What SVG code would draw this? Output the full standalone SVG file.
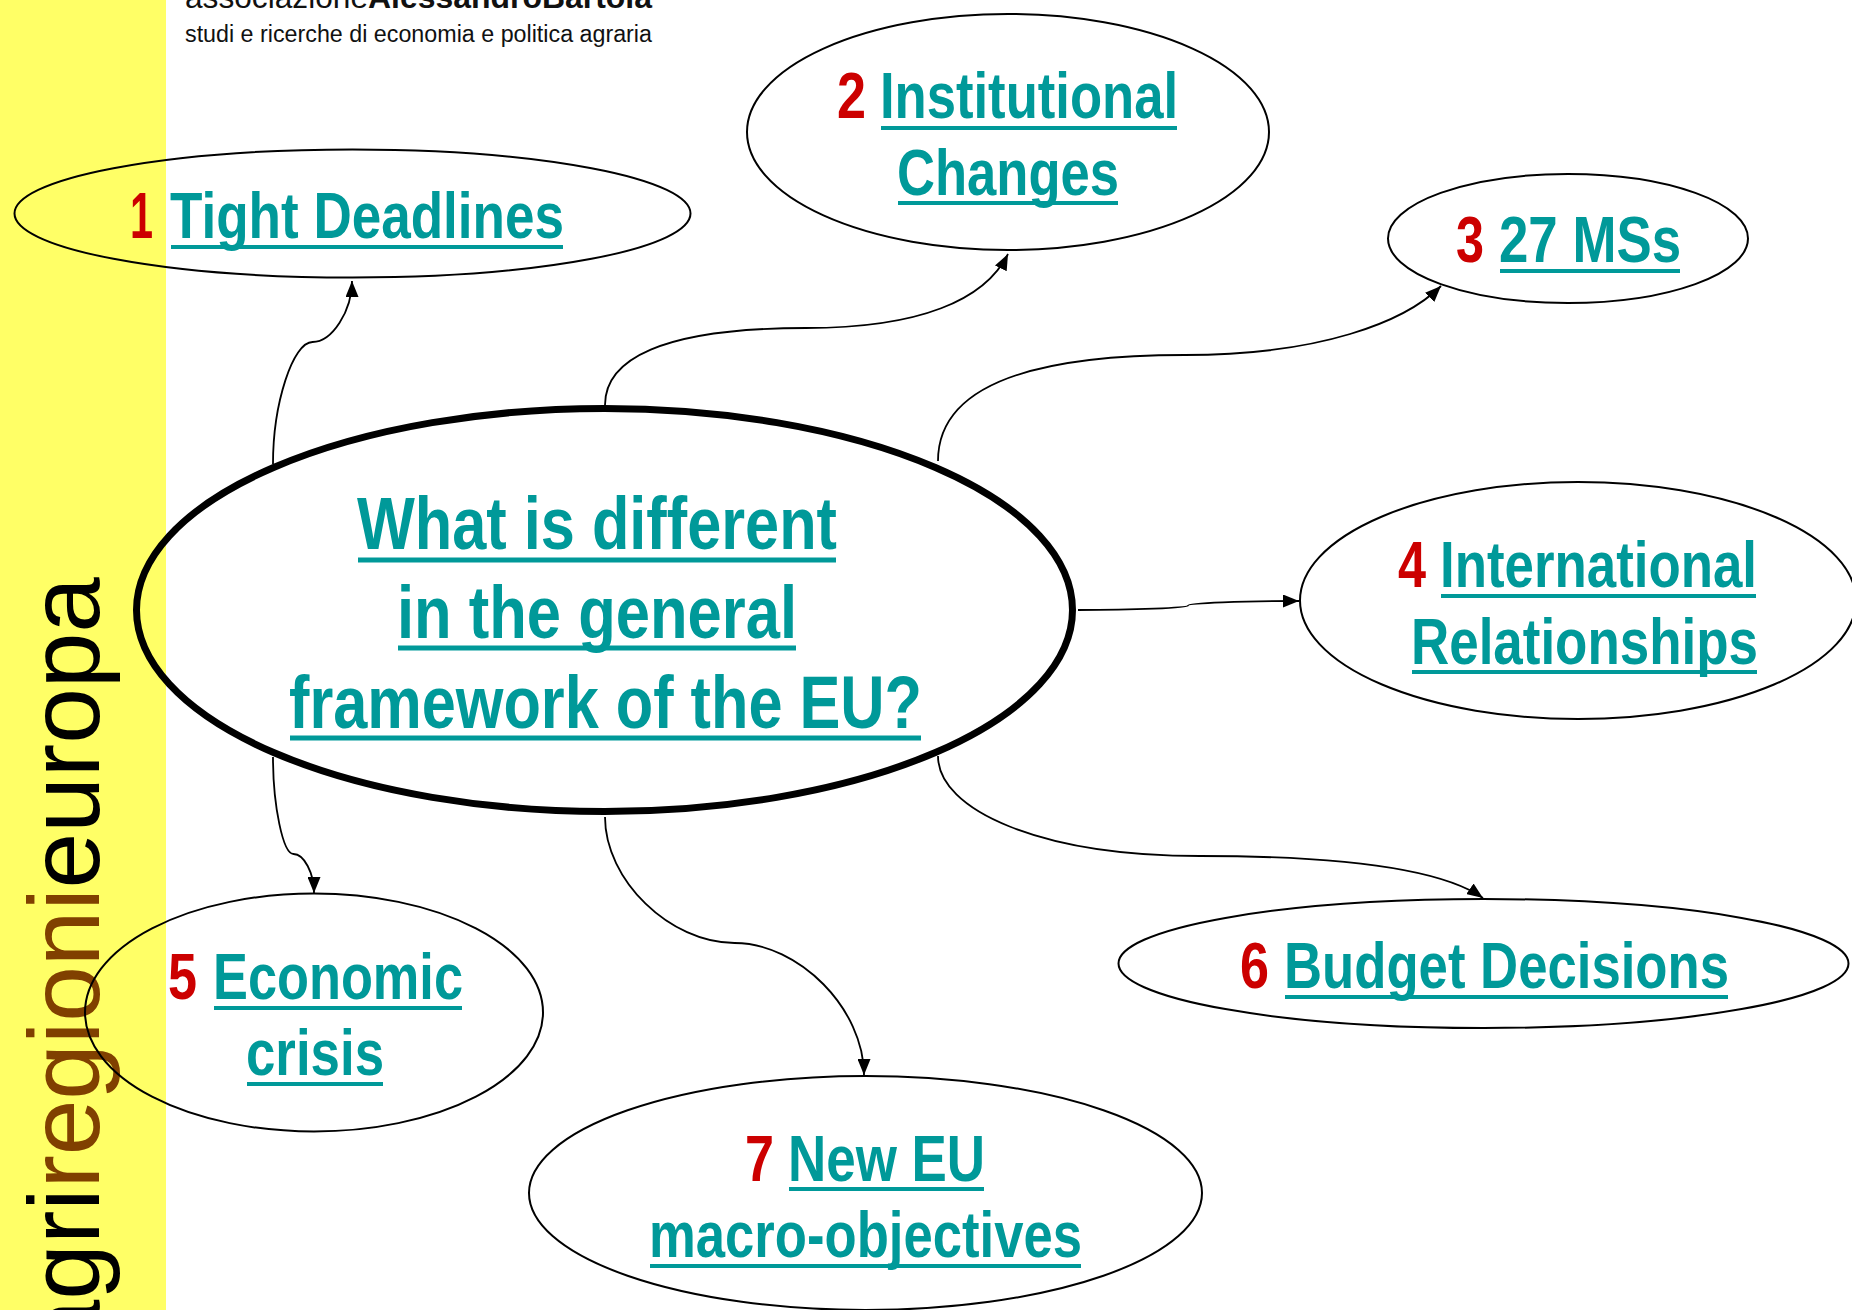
<svg xmlns="http://www.w3.org/2000/svg" width="1852" height="1310" viewBox="0 0 1852 1310">
<style>
.t{font-family:"Liberation Sans",Arial,sans-serif;font-weight:bold;fill:#009999;font-size:64px}
.n{fill:#CC0000}
.c{font-size:74px}
.ul{stroke:#009999;stroke-width:4}
.ulc{stroke-width:5}
.node{fill:none;stroke:#000;stroke-width:2}
.edge{fill:none;stroke:#000;stroke-width:1.8;marker-end:url(#arr)}
.hdr{font-family:"Liberation Sans",Arial,sans-serif;fill:#111}
</style>
<defs>
<marker id="arr" markerUnits="userSpaceOnUse" markerWidth="17" markerHeight="13" refX="16" refY="6.5" orient="auto">
<path d="M0,0 L16,6.5 L0,13 z" fill="#000"/>
</marker>
</defs>
<rect x="0" y="0" width="1852" height="1310" fill="#fff"/>
<rect x="0" y="0" width="166" height="1310" fill="#FFFF66"/>
<text transform="translate(99,577) rotate(-90)" text-anchor="end" font-family="Liberation Sans, Arial, sans-serif" font-size="100" fill="#000">agri<tspan fill="#804000">regioni</tspan>europa</text>
<text class="hdr" x="185" y="8" font-size="32" textLength="183" lengthAdjust="spacingAndGlyphs">associazione</text>
<text class="hdr" x="368" y="8" font-size="32" font-weight="bold" textLength="284" lengthAdjust="spacingAndGlyphs">AlessandroBartola</text>
<text class="hdr" x="185" y="42" font-size="23" textLength="467" lengthAdjust="spacingAndGlyphs">studi e ricerche di economia e politica agraria</text>

<g id="connectors">
<path class="edge" d="M273,464 C273,403 293,342 312.5,342 C332,342 352,311 352,281"/>
<path class="edge" d="M605,405 C605,360 660,328 806,328 C920,328 985,300 1008,254"/>
<path class="edge" d="M938,461 C938,400 1000,355 1185,355 C1320,355 1405,322 1441,286"/>
<path class="edge" d="M1078,610 C1134,610 1188,608 1188,605.5 C1188,603 1243,601 1299,601"/>
<path class="edge" d="M273,757 C273,806 283,854 293.5,854 C304,854 314,873 314,893"/>
<path class="edge" d="M938,756 C938,810 1040,856 1200,856 C1340,856 1440,868 1483,898"/>
<path class="edge" d="M605,817 C605,880 670,943 734.5,943 C799,943 864,1009 864,1075"/>
</g>

<g id="center">
<ellipse cx="604.5" cy="610" rx="468" ry="201.5" fill="none" stroke="#000" stroke-width="7"/>
<text class="t c" x="357" y="549" textLength="480" lengthAdjust="spacingAndGlyphs">What is different</text>
<line class="ul ulc" x1="358" y1="560" x2="836" y2="560"/>
<text class="t c" x="397" y="638" textLength="400" lengthAdjust="spacingAndGlyphs">in the general</text>
<line class="ul ulc" x1="398" y1="648" x2="796" y2="648"/>
<text class="t c" x="289" y="728" textLength="633" lengthAdjust="spacingAndGlyphs">framework of the EU?</text>
<line class="ul ulc" x1="290" y1="738" x2="921" y2="738"/>
</g>

<g id="node1">
<ellipse class="node" cx="352.5" cy="213.5" rx="338" ry="64"/>
<text class="t n" x="130" y="238" textLength="23" lengthAdjust="spacingAndGlyphs">1</text>
<text class="t" x="170" y="238" textLength="394" lengthAdjust="spacingAndGlyphs">Tight Deadlines</text>
<line class="ul" x1="171" y1="247" x2="563" y2="247"/>
</g>

<g id="node2">
<ellipse class="node" cx="1008" cy="132" rx="261" ry="118"/>
<text class="t n" x="837" y="118" textLength="29" lengthAdjust="spacingAndGlyphs">2</text>
<text class="t" x="880" y="118" textLength="298" lengthAdjust="spacingAndGlyphs">Institutional</text>
<line class="ul" x1="881" y1="128" x2="1177" y2="128"/>
<text class="t" x="897" y="195" textLength="222" lengthAdjust="spacingAndGlyphs">Changes</text>
<line class="ul" x1="898" y1="203" x2="1118" y2="203"/>
</g>

<g id="node3">
<ellipse class="node" cx="1568" cy="238.5" rx="180" ry="64.5"/>
<text class="t n" x="1456" y="262" textLength="28" lengthAdjust="spacingAndGlyphs">3</text>
<text class="t" x="1499" y="262" textLength="182" lengthAdjust="spacingAndGlyphs">27 MSs</text>
<line class="ul" x1="1500" y1="271" x2="1680" y2="271"/>
</g>

<g id="node4">
<ellipse class="node" cx="1578" cy="600.5" rx="278" ry="118.5"/>
<text class="t n" x="1398" y="587" textLength="28" lengthAdjust="spacingAndGlyphs">4</text>
<text class="t" x="1440" y="587" textLength="317" lengthAdjust="spacingAndGlyphs">International</text>
<line class="ul" x1="1441" y1="596" x2="1756" y2="596"/>
<text class="t" x="1411" y="664" textLength="347" lengthAdjust="spacingAndGlyphs">Relationships</text>
<line class="ul" x1="1412" y1="672" x2="1757" y2="672"/>
</g>

<g id="node5">
<ellipse class="node" cx="314" cy="1012.5" rx="229" ry="119"/>
<text class="t n" x="168" y="999" textLength="29" lengthAdjust="spacingAndGlyphs">5</text>
<text class="t" x="213" y="999" textLength="250" lengthAdjust="spacingAndGlyphs">Economic</text>
<line class="ul" x1="214" y1="1008" x2="462" y2="1008"/>
<text class="t" x="246" y="1075" textLength="138" lengthAdjust="spacingAndGlyphs">crisis</text>
<line class="ul" x1="247" y1="1084" x2="383" y2="1084"/>
</g>

<g id="node6">
<ellipse class="node" cx="1483.5" cy="963.5" rx="365" ry="64.5"/>
<text class="t n" x="1240" y="988" textLength="29" lengthAdjust="spacingAndGlyphs">6</text>
<text class="t" x="1284" y="988" textLength="445" lengthAdjust="spacingAndGlyphs">Budget Decisions</text>
<line class="ul" x1="1285" y1="997" x2="1728" y2="997"/>
</g>

<g id="node7">
<ellipse class="node" cx="865.5" cy="1193" rx="336.5" ry="117"/>
<text class="t n" x="745" y="1181" textLength="29" lengthAdjust="spacingAndGlyphs">7</text>
<text class="t" x="788" y="1181" textLength="197" lengthAdjust="spacingAndGlyphs">New EU</text>
<line class="ul" x1="789" y1="1189" x2="984" y2="1189"/>
<text class="t" x="649" y="1257" textLength="433" lengthAdjust="spacingAndGlyphs">macro-objectives</text>
<line class="ul" x1="650" y1="1266" x2="1081" y2="1266"/>
</g>
</svg>
